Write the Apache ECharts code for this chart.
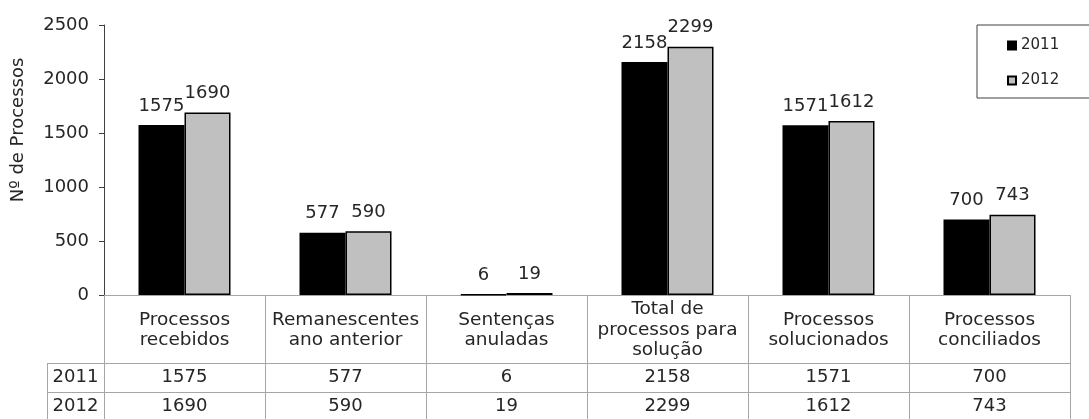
<!DOCTYPE html>
<html><head><meta charset="utf-8">
<script src="https://cdn.jsdelivr.net/npm/echarts@6/dist/echarts.min.js"></script>
<style>html,body{margin:0;padding:0;background:#fff}#c{width:1089px;height:419px}</style>
</head><body><div id="c"></div>
<script>
var categories = ['Processos\nrecebidos', 'Remanescentes\nano anterior', 'Sentenças\nanuladas', 'Total de\nprocessos para\nsolução', 'Processos\nsolucionados', 'Processos\nconciliados'];
var seriesNames = ['2011', '2012'];
var values2011 = [1575, 577, 6, 2158, 1571, 700];
var values2012 = [1690, 590, 19, 2299, 1612, 743];
var yTicks = [0, 500, 1000, 1500, 2000, 2500];
var yTitle = 'Nº de Processos';

var FONT = 'DejaVu Sans';
var TXT = '#262626';
var GRID = '#a6a6a6';
var chart = echarts.init(document.getElementById('c'), null, {renderer: 'canvas'});
var tableRows = [values2011, values2012];

function valueAxis(idx, offset) {
  return {
    type: 'category', data: categories, position: 'bottom', offset: offset,
    axisLine: {show: true, lineStyle: {color: GRID, width: 1}},
    axisTick: {show: false}, splitLine: {show: false},
    axisLabel: {interval: 0, margin: 14.5, verticalAlign: 'middle', fontFamily: FONT, fontSize: 18, color: TXT,
      formatter: function (v, i) { return String(tableRows[idx][i]); }}
  };
}

var option = {
  animation: false,
  textStyle: {fontFamily: FONT},
  grid: {left: 104, right: 19, top: 25, bottom: 124, containLabel: false},
  legend: {
    data: seriesNames, orient: 'vertical', left: 977, top: 25,
    padding: [13, 80, 10, 30], itemGap: 20, itemWidth: 8, itemHeight: 8,
    borderColor: '#404040', borderWidth: 1, icon: 'rect',
    textStyle: {fontFamily: FONT, fontSize: 15, color: TXT}
  },
  xAxis: [{
    type: 'category', data: categories, position: 'bottom',
    axisLine: {show: true, lineStyle: {color: GRID, width: 1}},
    axisTick: {show: true, interval: 0, alignWithLabel: false, length: 124, lineStyle: {color: GRID, width: 1}},
    axisLabel: {interval: 0, margin: 35, verticalAlign: 'middle', lineHeight: 20.5, fontFamily: FONT, fontSize: 18.5, color: TXT}
  }, valueAxis(0, 68), valueAxis(1, 97)],
  yAxis: {
    type: 'value', min: yTicks[0], max: yTicks[yTicks.length - 1], interval: yTicks[1] - yTicks[0],
    axisLine: {show: true, lineStyle: {color: '#404040', width: 1}},
    axisTick: {show: true, length: 5, lineStyle: {color: '#404040'}},
    splitLine: {show: false},
    axisLabel: {margin: 15, fontFamily: FONT, fontSize: 18, color: TXT, formatter: function (v) { return String(v); }}
  },
  series: [{
    name: seriesNames[0], type: 'bar', xAxisIndex: 0, data: values2011, barWidth: 46, barGap: '0%',
    itemStyle: {color: '#000000', borderColor: '#000000', borderWidth: 1.5},
    label: {show: true, position: 'top', distance: 10, fontFamily: FONT, fontSize: 18, color: TXT}
  }, {
    name: seriesNames[1], type: 'bar', xAxisIndex: 0, data: values2012, barWidth: 46, barGap: '0%',
    itemStyle: {color: '#c0c0c0', borderColor: '#000000', borderWidth: 1.5},
    label: {show: true, position: 'top', distance: 10, fontFamily: FONT, fontSize: 18, color: TXT}
  }],
  graphic: [
    {type: 'text', x: 18, y: 130, rotation: Math.PI / 2,
     style: {text: yTitle, fontFamily: FONT, fontSize: 18, fill: TXT, align: 'center', verticalAlign: 'middle'}},
    {type: 'line', shape: {x1: 47, y1: 363.5, x2: 104, y2: 363.5}, style: {stroke: GRID, lineWidth: 1}},
    {type: 'line', shape: {x1: 47, y1: 392.5, x2: 104, y2: 392.5}, style: {stroke: GRID, lineWidth: 1}},
    {type: 'line', shape: {x1: 47.5, y1: 363, x2: 47.5, y2: 419}, style: {stroke: GRID, lineWidth: 1}},
    {type: 'text', x: 75.5, y: 377.5, style: {text: seriesNames[0], fontFamily: FONT, fontSize: 18, fill: TXT, align: 'center', verticalAlign: 'middle'}},
    {type: 'text', x: 75.5, y: 406.5, style: {text: seriesNames[1], fontFamily: FONT, fontSize: 18, fill: TXT, align: 'center', verticalAlign: 'middle'}}
  ]
};
chart.setOption(option);
</script></body></html>
